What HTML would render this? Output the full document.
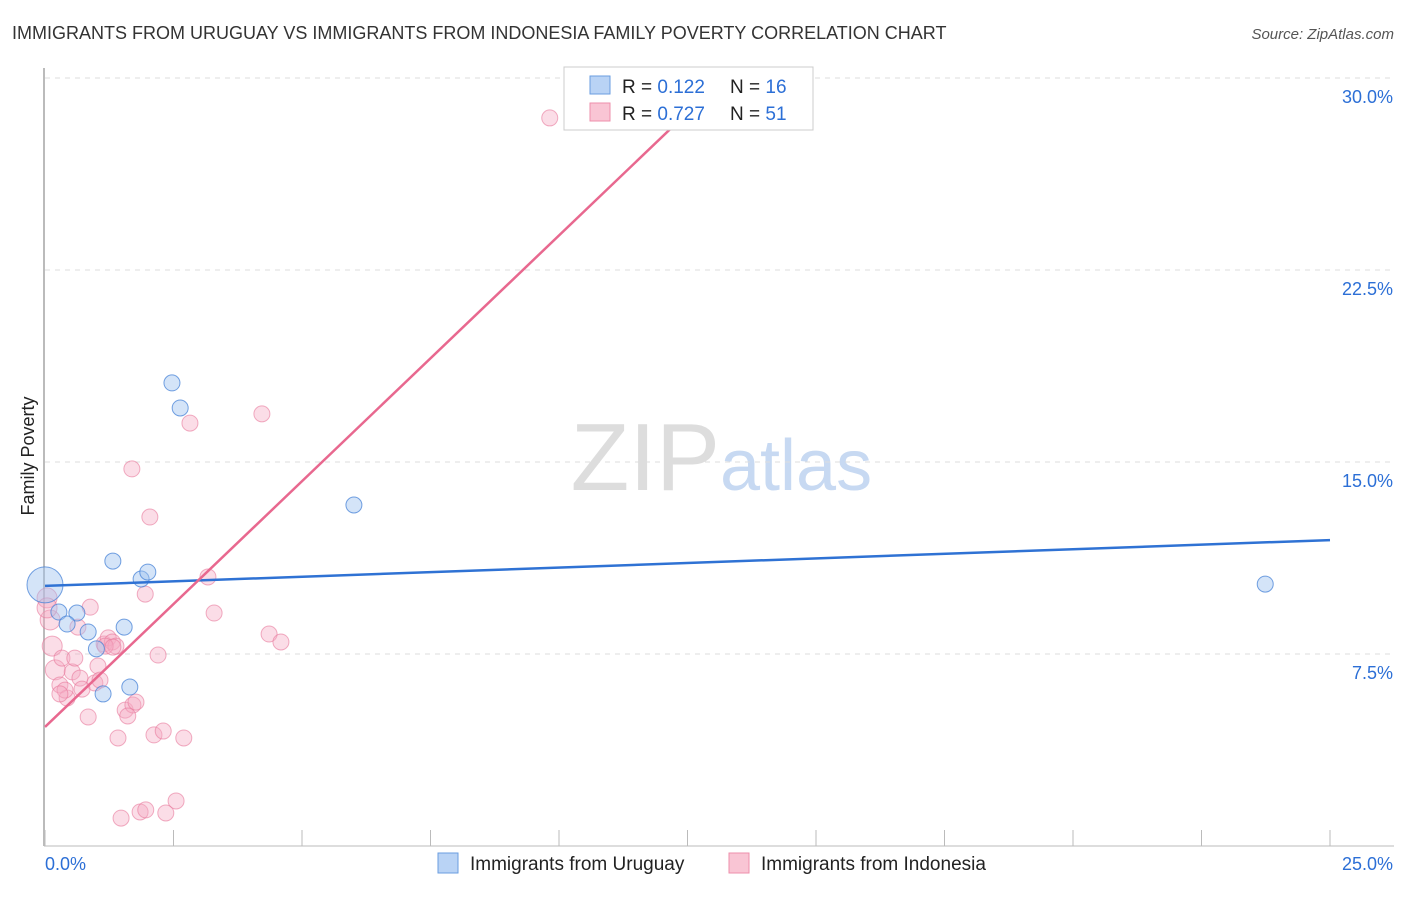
<!DOCTYPE html>
<html><head><meta charset="utf-8"><style>
body{margin:0;background:#fff;font-family:"Liberation Sans",sans-serif;}
svg text{font-family:"Liberation Sans",sans-serif;}
</style></head><body>
<svg id="c" width="1406" height="892">
<text x="12" y="39" font-size="18" fill="#333">IMMIGRANTS FROM URUGUAY VS IMMIGRANTS FROM INDONESIA FAMILY POVERTY CORRELATION CHART</text>
<text x="1394" y="39" font-size="15" fill="#555" font-style="italic" text-anchor="end">Source: ZipAtlas.com</text>
<text x="34" y="456" font-size="18" fill="#222" transform="rotate(-90 34 456)" text-anchor="middle">Family Poverty</text>
<text x="720" y="490" font-size="96" fill="#ddd" text-anchor="end" font-family="Liberation Serif">ZIP</text>
<text x="720" y="490" font-size="72" fill="#c7d9f2">atlas</text>
<g id="grid"></g><g id="axes"></g><g id="pts"></g><g id="lines"></g>
<g>
<rect x="564" y="67" width="249" height="63" fill="#fff" stroke="#ccc"/>
<rect x="590" y="76" width="20" height="18" fill="#b9d3f5" stroke="#6a9ee0"/>
<rect x="590" y="103" width="20" height="18" fill="#f9c5d4" stroke="#ee8fab"/>
<text x="622" y="93" font-size="19" fill="#222">R = <tspan fill="#2c6fd6">0.122</tspan></text>
<text x="730" y="93" font-size="19" fill="#222">N = <tspan fill="#2c6fd6">16</tspan></text>
<text x="622" y="120" font-size="19" fill="#222">R = <tspan fill="#2c6fd6">0.727</tspan></text>
<text x="730" y="120" font-size="19" fill="#222">N = <tspan fill="#2c6fd6">51</tspan></text>
</g>
<g>
<rect x="438" y="853" width="20" height="20" fill="#b9d3f5" stroke="#6a9ee0"/>
<text x="470" y="870" font-size="19" fill="#222">Immigrants from Uruguay</text>
<rect x="729" y="853" width="20" height="20" fill="#f9c5d4" stroke="#ee8fab"/>
<text x="761" y="870" font-size="19" fill="#222">Immigrants from Indonesia</text>
</g>
</svg>
<script>
const yTicks=[7.5,15,22.5,30];
const yTickLabels=["7.5%","15.0%","22.5%","30.0%"];
const xTicks=[0,2.5,5,7.5,10,12.5,15,17.5,20,22.5,25];
const uruX=[0,0.27,0.62,0.43,0.84,1.0,1.54,1.32,1.87,2.0,2.47,2.63,6.01,1.13,1.65,23.74];
const uruY=[10.2,9.14,9.1,8.67,8.36,7.7,8.55,11.13,10.43,10.7,18.09,17.11,13.32,5.94,6.21,10.23];
const uruR=[18,8,8,8,8,8,8,8,8,8,8,8,8,8,8,8];
const indX=[10.47,9.82,4.22,2.82,1.69,2.04,3.17,1.95,3.29,4.36,4.59,2.2,0.88,0.64,0.04,0.1,0.14,0.2,0.29,0.43,0.39,0.53,0.33,0.58,0.68,0.97,1.03,1.07,1.15,1.23,1.31,1.38,1.17,0.72,0.84,1.42,1.56,1.71,1.77,1.61,2.12,2.3,2.7,2.55,1.48,1.85,1.96,2.35,0.04,0.29,1.32];
const indY=[29.49,28.44,16.88,16.52,14.73,12.85,10.51,9.84,9.1,8.28,7.97,7.46,9.33,8.55,9.69,8.83,7.81,6.88,6.29,5.78,6.09,6.8,7.34,7.34,6.56,6.37,7.03,6.48,7.89,8.13,7.97,7.81,7.81,6.13,5.04,4.22,5.31,5.51,5.62,5.08,4.34,4.49,4.22,1.76,1.09,1.33,1.41,1.29,9.3,5.94,7.77];
const indR=[8,8,8,8,8,8,8,8,8,8,8,8,8,8,10,10,10,10,8,8,8,8,8,8,8,8,8,8,8,8,8,8,8,8,8,8,8,8,8,8,8,8,8,8,8,8,8,8,10,8,8];
const uruLine=[10.16,11.95];
const indLine=[4.65,1.92];
const X=v=>45+v*51.4, Y=v=>846-v*25.6;
const NS="http://www.w3.org/2000/svg";
function mk(p,t,a){const e=document.createElementNS(NS,t);for(const k in a)e.setAttribute(k,a[k]);p.appendChild(e);return e;}
const grid=document.getElementById('grid'),axes=document.getElementById('axes'),pts=document.getElementById('pts'),lines=document.getElementById('lines');
yTicks.forEach((t,i)=>{
 const g=mk(grid,'line',{x1:45,x2:1394,y1:Y(t),y2:Y(t),stroke:'#ddd','stroke-dasharray':'5,5'});
 
 
 const l=mk(axes,'text',{x:1393,y:Y(t)+25,'font-size':18,fill:'#2c6fd6','text-anchor':'end'});
 l.textContent=yTickLabels[i];
 
 
});
const ya=mk(axes,'line',{x1:44,x2:44,y1:68,y2:846,stroke:'#bbb','stroke-width':2});


const xa=mk(axes,'line',{x1:44,x2:1394,y1:846,y2:846,stroke:'#bbb','stroke-width':1});


xTicks.forEach(t=>{
 const k=mk(axes,'line',{x1:X(t),x2:X(t),y1:830,y2:846,stroke:'#bbb'});
 
 
});
const x0=mk(axes,'text',{x:45,y:870,'font-size':18,fill:'#2c6fd6'});x0.textContent='0.0%';


const x1=mk(axes,'text',{x:1393,y:870,'font-size':18,fill:'#2c6fd6','text-anchor':'end'});x1.textContent='25.0%';


indX.forEach((v,i)=>{
 const c=mk(pts,'circle',{cx:X(v),cy:Y(indY[i]),r:indR[i],fill:'rgba(246,170,195,0.4)',stroke:'rgba(232,120,155,0.6)'});
 
 
});
uruX.forEach((v,i)=>{
 const c=mk(pts,'circle',{cx:X(v),cy:Y(uruY[i]),r:uruR[i],fill:'rgba(160,195,240,0.45)',stroke:'rgba(70,130,215,0.75)'});
 
 
});
const bl=mk(lines,'line',{x1:X(0),y1:Y(uruLine[0]),x2:X(25),y2:Y(uruLine[1]),stroke:'#2f72d4','stroke-width':2.5});


const xe=(30-indLine[0])/indLine[1];
const pl=mk(lines,'line',{x1:X(0),y1:Y(indLine[0]),x2:X(xe),y2:Y(30),stroke:'#e8688f','stroke-width':2.5});


</script>
</body></html>
